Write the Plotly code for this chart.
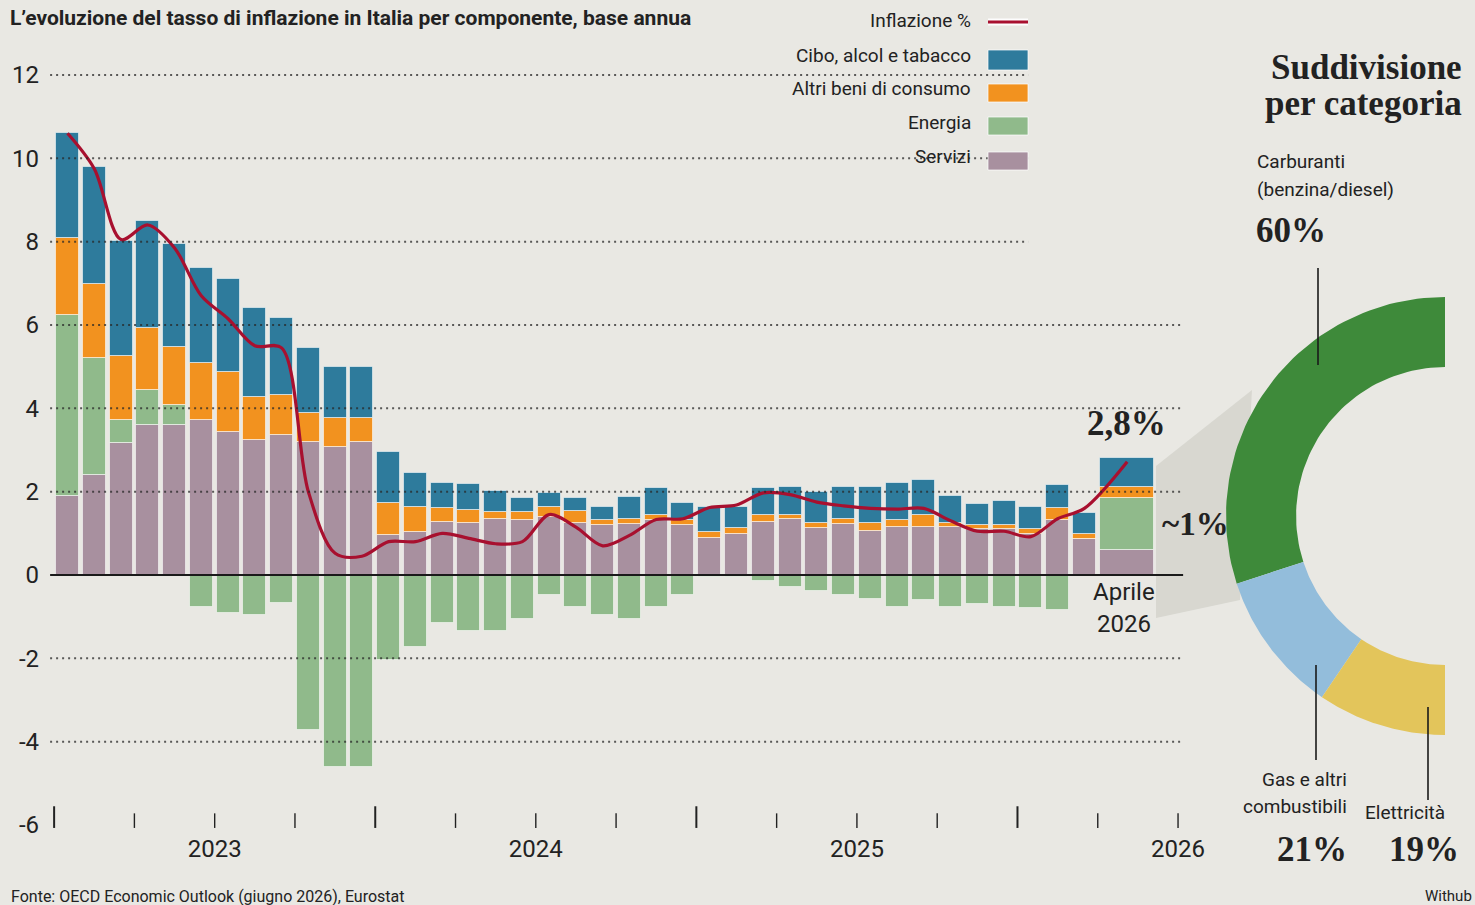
import numpy as np
import plotly.graph_objects as go

W, H = 1475, 905
BG = "#E9E8E3"
SANS = "Roboto, 'Noto Sans', sans-serif"
SERIF = "'Liberation Serif', 'DejaVu Serif', serif"

# ---------------- data ----------------
months = ([f"{y}-{m:02d}" for y in (2023, 2024, 2025) for m in range(1, 13)]
          + ["2026-01", "2026-02", "2026-03", "Aprile 2026"])

servizi = [1.90, 2.40, 3.17, 3.60, 3.60, 3.72, 3.43, 3.24, 3.36, 3.19,
           3.07, 3.19, 0.96, 1.03, 1.27, 1.25, 1.34, 1.32, 1.39, 1.25,
           1.20, 1.22, 1.32, 1.20, 0.89, 0.98, 1.27, 1.34, 1.12, 1.22,
           1.06, 1.15, 1.15, 1.15, 1.10, 1.10, 0.98, 1.32, 0.86, 0.60]
energia = [4.34, 2.81, 0.55, 0.84, 0.48, -0.77, -0.92, -0.96, -0.67, -3.72,
           -4.60, -4.60, -2.05, -1.72, -1.15, -1.34, -1.34, -1.06, -0.48, -0.76,
           -0.96, -1.06, -0.76, -0.48, -0.05, -0.05, -0.15, -0.28, -0.38, -0.48,
           -0.58, -0.77, -0.60, -0.77, -0.70, -0.77, -0.80, -0.84, 0.00, 1.25]
altri = [1.85, 1.77, 1.54, 1.49, 1.39, 1.37, 1.44, 1.03, 0.96, 0.70,
         0.70, 0.58, 0.77, 0.60, 0.33, 0.31, 0.17, 0.19, 0.24, 0.29,
         0.12, 0.12, 0.12, 0.12, 0.14, 0.14, 0.17, 0.10, 0.13, 0.12,
         0.19, 0.17, 0.29, 0.10, 0.10, 0.10, 0.12, 0.28, 0.12, 0.26]
cibo = [2.51, 2.81, 2.76, 2.57, 2.47, 2.28, 2.23, 2.13, 1.85, 1.56,
        1.23, 1.23, 1.22, 0.82, 0.60, 0.62, 0.51, 0.34, 0.34, 0.31,
        0.31, 0.53, 0.65, 0.41, 0.60, 0.51, 0.65, 0.68, 0.75, 0.78,
        0.87, 0.88, 0.84, 0.65, 0.50, 0.58, 0.53, 0.56, 0.51, 0.69]
inflazione = [10.6, 9.75, 8.05, 8.4, 7.85, 6.7, 6.15, 5.5, 5.45, 2.0,
              0.52, 0.45, 0.8, 0.8, 1.0, 0.88, 0.75, 0.8, 1.45, 1.15,
              0.7, 0.95, 1.33, 1.35, 1.62, 1.68, 1.97, 1.93, 1.75, 1.66,
              1.6, 1.58, 1.6, 1.3, 1.05, 1.05, 0.92, 1.35, 1.6, 2.72]

year_labels = ["2023", "2024", "2025", "2026"]
y_ticks = [-6, -4, -2, 0, 2, 4, 6, 8, 10, 12]

cat_labels = ["Carburanti (benzina/diesel)", "Gas e altri combustibili", "Elettricità"]
cat_shares = [60, 21, 19]

# ---------------- styles ----------------
C_CIBO = "#2E7B9C"
C_ALTRI = "#F2921F"
C_ENERGIA = "#90BA8B"
C_SERVIZI = "#A8909F"
C_LINE = "#A8102F"
DONUT_COLORS = ["#3E8A3A", "#93BDDB", "#E3C55B"]

# bar positions (month index); last month drawn as a wide highlighted bar
n = len(months)
pos = [float(i) for i in range(n - 1)] + [n - 1 + 0.6]
widths = [0.86] * (n - 1) + [2.02]

# pixel geometry of main plot
PX_PER_M = 26.76
X_ORIGIN_PX = 67.5
PX_PER_U = 41.67
ZERO_PX = 575
XL, XR = 44, 1200
YT, YB = 30, 832
xrange_ = [(XL - X_ORIGIN_PX) / PX_PER_M, (XR - X_ORIGIN_PX) / PX_PER_M]
yrange_ = [(ZERO_PX - YB) / PX_PER_U, (ZERO_PX - YT) / PX_PER_U]


def fx(px):
    return px / W


def fy(py):
    return 1 - py / H


fig = go.Figure()

bar_line = dict(color="rgba(255,255,255,0.55)", width=1)
for name, vals, col in [("Servizi", servizi, C_SERVIZI),
                        ("Energia", energia, C_ENERGIA),
                        ("Altri beni di consumo", altri, C_ALTRI),
                        ("Cibo, alcol e tabacco", cibo, C_CIBO)]:
    fig.add_trace(go.Bar(x=pos, y=vals, width=widths, name=name,
                         marker=dict(color=col, line=bar_line),
                         customdata=months, hovertemplate="%{customdata}: %{y}<extra>" + name + "</extra>",
                         xaxis="x", yaxis="y", showlegend=False))

fig.add_trace(go.Scatter(x=pos, y=inflazione, mode="lines", name="Inflazione %",
                         line=dict(color=C_LINE, width=3.2, shape="spline", smoothing=0.9),
                         customdata=months, hovertemplate="%{customdata}: %{y}%<extra></extra>",
                         xaxis="x", yaxis="y", showlegend=False))

# ---------------- donut (half ring) ----------------
CX_PX, CY_PX, R_PX = 1445, 516, 219
R_IN = 0.68
DXL, DXR, DYT, DYB = 1200, 1475, 262, 770
x2range = [-(CX_PX - DXL) / R_PX, (DXR - CX_PX) / R_PX]
y2range = [-(DYB - CY_PX) / R_PX, (CY_PX - DYT) / R_PX]

tot = sum(cat_shares)
a0 = 90.0
for lab, share, col in zip(cat_labels, cat_shares, DONUT_COLORS):
    a1 = a0 + 180.0 * share / tot
    th = np.radians(np.linspace(a0, a1, 60))
    xs = np.concatenate([np.cos(th), R_IN * np.cos(th[::-1])])
    ys = np.concatenate([np.sin(th), R_IN * np.sin(th[::-1])])
    fig.add_trace(go.Scatter(x=np.append(xs, xs[0]), y=np.append(ys, ys[0]), mode="lines",
                             fill="toself", fillcolor=col, line=dict(width=0, color=col),
                             name=lab, hovertemplate=lab + ": " + str(share) + "%<extra></extra>",
                             xaxis="x2", yaxis="y2", showlegend=False))
    a0 = a1

shapes = []
# grid lines
for v in y_ticks:
    if v in (0, -6):
        continue
    xend = 35.9 if v >= 8 else 41.69
    shapes.append(dict(type="line", xref="x", yref="y", x0=-0.65, x1=xend, y0=v, y1=v,
                       line=dict(color="rgba(40,40,40,0.75)", width=2, dash="2px,4px"), layer="above"))
# zero line
shapes.append(dict(type="line", xref="x", yref="y", x0=-0.65, x1=41.69, y0=0, y1=0,
                   line=dict(color="#1a1a1a", width=2), layer="above"))
# x ticks (quarters)
for k in range(15):
    xv = -0.5 + 3 * k
    major = (k % 4 == 0) and k < 14
    shapes.append(dict(type="line", xref="x", yref="y", x0=xv, x1=xv,
                       y0=-5.55 if major else -5.72, y1=-6.07,
                       line=dict(color="#222", width=2 if major else 1.4), layer="above"))

# grey connector wedge from last bar to donut
wedge = [(1156, 466), (1252, 390), (1240, 600), (1156, 618)]
path = "M " + " L ".join(f"{fx(a):.5f},{fy(b):.5f}" for a, b in wedge) + " Z"
shapes.append(dict(type="path", xref="paper", yref="paper", path=path,
                   fillcolor="rgba(190,190,180,0.40)", line=dict(width=0), layer="below"))

# donut leader lines
for (x, y0, y1) in [(1318, 268, 365), (1316, 665, 760), (1428, 707, 800)]:
    shapes.append(dict(type="line", xref="paper", yref="paper", x0=fx(x), x1=fx(x), y0=fy(y0), y1=fy(y1),
                       line=dict(color="#1a1a1a", width=1.6)))

# legend swatches
shapes.append(dict(type="line", xref="paper", yref="paper", x0=fx(988), x1=fx(1028), y0=fy(22), y1=fy(22),
                   line=dict(color="rgba(255,255,255,0.9)", width=7)))
shapes.append(dict(type="line", xref="paper", yref="paper", x0=fx(988), x1=fx(1028), y0=fy(22), y1=fy(22),
                   line=dict(color=C_LINE, width=3)))
for (yt, yb, col) in [(50, 70, C_CIBO), (84, 102, C_ALTRI), (117, 135, C_ENERGIA), (152, 170, C_SERVIZI)]:
    shapes.append(dict(type="rect", xref="paper", yref="paper", x0=fx(988), x1=fx(1028), y0=fy(yb), y1=fy(yt),
                       fillcolor=col, line=dict(color="rgba(255,255,255,0.7)", width=1)))

annotations = []


def ann(text, x, y, size, family=SANS, xanchor="left", color="#222"):
    annotations.append(dict(text=text, x=fx(x), y=fy(y), xref="paper", yref="paper",
                            xanchor=xanchor, yanchor="middle", showarrow=False,
                            font=dict(family=family, size=size, color=color)))


ann("<b>L’evoluzione del tasso di inflazione in Italia per componente, base annua</b>", 8, 18, 21)
for txt, yy in [("Inflazione %", 21), ("Cibo, alcol e tabacco", 56), ("Altri beni di consumo", 89),
                ("Energia", 123), ("Servizi", 157)]:
    ann(txt, 973, yy, 19, xanchor="right")

ann("<b>Suddivisione</b>", 1464, 68, 35, family=SERIF, xanchor="right")
ann("<b>per categoria</b>", 1464, 103, 35, family=SERIF, xanchor="right")
ann("Carburanti", 1255, 161, 19)
ann("(benzina/diesel)", 1255, 189, 19)
ann(f"<b>{cat_shares[0]}%</b>", 1254, 230, 35, family=SERIF)
ann("Gas e altri", 1349, 779, 19, xanchor="right")
ann("combustibili", 1349, 806, 19, xanchor="right")
ann("Elettricità", 1363, 812, 19)
ann(f"<b>{cat_shares[1]}%</b>", 1349, 849, 35, family=SERIF, xanchor="right")
ann(f"<b>{cat_shares[2]}%</b>", 1461, 849, 35, family=SERIF, xanchor="right")

ann("<b>" + f"{inflazione[-1] + 0.08:.1f}".replace(".", ",") + "%</b>", 1126, 423, 35, family=SERIF, xanchor="center")
ann("<b>~1%</b>", 1160, 524, 33, family=SERIF)
ann("Aprile", 1124, 592, 24, xanchor="center")
ann("2026", 1124, 624, 24, xanchor="center")

ann("Fonte: OECD Economic Outlook (giugno 2026), Eurostat", 9, 896, 16)
ann("Withub", 1474, 896, 15, xanchor="right")

fig.update_layout(
    width=W, height=H,
    paper_bgcolor=BG, plot_bgcolor="rgba(0,0,0,0)",
    margin=dict(l=0, r=0, t=0, b=0, autoexpand=False),
    barmode="relative", bargap=0,
    showlegend=False,
    font=dict(family=SANS, color="#222"),
    xaxis=dict(domain=[fx(XL), fx(XR)], range=xrange_, showgrid=False, zeroline=False, showline=False,
               automargin=False,
               tickmode="array", tickvals=[5.5, 17.5, 29.5, 41.5], ticktext=year_labels,
               ticks="", tickfont=dict(family=SANS, size=24, color="#222"), fixedrange=True),
    yaxis=dict(domain=[fy(YB), fy(YT)], range=yrange_, showgrid=False, zeroline=False, showline=False,
               automargin=False,
               tickmode="array", tickvals=y_ticks, ticktext=[str(v) for v in y_ticks],
               ticks="", ticklabelstandoff=4,
               tickfont=dict(family=SANS, size=24, color="#222"), fixedrange=True),
    xaxis2=dict(domain=[fx(DXL), fx(DXR)], range=x2range, visible=False, fixedrange=True, automargin=False),
    yaxis2=dict(domain=[fy(DYB), fy(DYT)], range=y2range, visible=False, fixedrange=True, automargin=False),
    shapes=shapes,
    annotations=annotations,
)

fig.write_html("out.html")
